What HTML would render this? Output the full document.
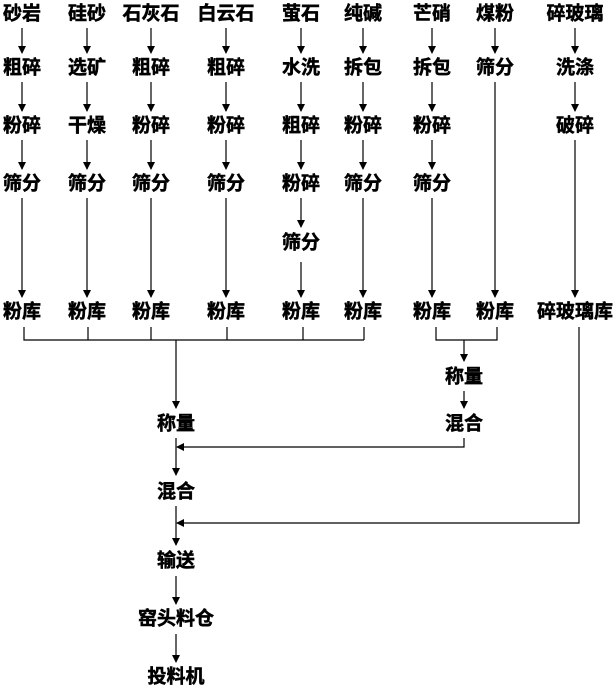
<!DOCTYPE html>
<html><head><meta charset="utf-8"><style>
html,body{margin:0;padding:0;background:#fff;}
svg text{font-family:"Liberation Sans","Noto Sans CJK SC",sans-serif;font-weight:bold;font-size:19px;fill:#000;stroke:#000;stroke-width:0.5;text-anchor:middle;dominant-baseline:central;}
</style></head><body>
<svg width="616" height="693" viewBox="0 0 616 693" xmlns="http://www.w3.org/2000/svg">
<defs><marker id="a" markerWidth="8" markerHeight="8" refX="7" refY="4" orient="auto" markerUnits="userSpaceOnUse"><path d="M0,0 L8,4 L0,8 Z" fill="#000"/></marker></defs>
<g stroke="#000" stroke-width="1.2" fill="none" marker-end="url(#a)">
<path d="M22,28V53"/><path d="M22,82V111"/><path d="M22,140V169"/><path d="M22,198V297"/>
<path d="M87,28V53"/><path d="M87,82V111"/><path d="M87,140V169"/><path d="M87,198V297"/>
<path d="M151,28V53"/><path d="M151,82V111"/><path d="M151,140V169"/><path d="M151,198V297"/>
<path d="M226,28V53"/><path d="M226,82V111"/><path d="M226,140V169"/><path d="M226,198V297"/>
<path d="M301,28V53"/><path d="M301,82V111"/><path d="M301,140V169"/><path d="M301,198V227"/><path d="M301,262V297"/>
<path d="M363,28V53"/><path d="M363,82V111"/><path d="M363,140V169"/><path d="M363,198V297"/>
<path d="M432,28V53"/><path d="M432,82V111"/><path d="M432,140V169"/><path d="M432,198V297"/>
<path d="M495,28V53"/><path d="M495,82V297"/>
<path d="M575,28V53"/><path d="M575,82V111"/><path d="M575,140V297"/>
<path d="M176,340V408"/>
<path d="M464,340V361"/>
<path d="M464,391V408"/>
<path d="M464,438V447H177"/>
<path d="M176,438V475"/>
<path d="M579,327V523H177"/>
<path d="M176,506V545"/>
<path d="M176,576V604"/>
<path d="M176,634V662"/>
</g>
<g stroke="#000" stroke-width="1.2" fill="none">
<path d="M24,327V340H364M88,327V340M151,327V340M227,327V340M303,327V340M364,327V340"/>
<path d="M436,327V340H497V327"/>
</g>
<g>
<text x="22" y="14">砂岩</text><text x="87" y="14">硅砂</text><text x="151" y="14">石灰石</text><text x="226" y="14">白云石</text><text x="301" y="14">萤石</text><text x="363" y="14">纯碱</text><text x="432" y="14">芒硝</text><text x="495" y="14">煤粉</text><text x="575" y="14">碎玻璃</text>
<text x="22" y="68">粗碎</text><text x="87" y="68">选矿</text><text x="151" y="68">粗碎</text><text x="226" y="68">粗碎</text><text x="301" y="68">水洗</text><text x="363" y="68">拆包</text><text x="432" y="68">拆包</text><text x="495" y="68">筛分</text><text x="575" y="68">洗涤</text>
<text x="22" y="126">粉碎</text><text x="87" y="126">干燥</text><text x="151" y="126">粉碎</text><text x="226" y="126">粉碎</text><text x="301" y="126">粗碎</text><text x="363" y="126">粉碎</text><text x="432" y="126">粉碎</text><text x="575" y="126">破碎</text>
<text x="22" y="184">筛分</text><text x="87" y="184">筛分</text><text x="151" y="184">筛分</text><text x="226" y="184">筛分</text><text x="301" y="184">粉碎</text><text x="363" y="184">筛分</text><text x="432" y="184">筛分</text>
<text x="301" y="243">筛分</text>
<text x="22" y="312">粉库</text><text x="87" y="312">粉库</text><text x="151" y="312">粉库</text><text x="226" y="312">粉库</text><text x="301" y="312">粉库</text><text x="363" y="312">粉库</text><text x="432" y="312">粉库</text><text x="495" y="312">粉库</text><text x="575" y="312">碎玻璃库</text>
<text x="464" y="377">称量</text><text x="464" y="424">混合</text>
<text x="176" y="424">称量</text><text x="176" y="492">混合</text><text x="176" y="561">输送</text><text x="176" y="619">窑头料仓</text><text x="176" y="677">投料机</text>
</g>
</svg>
</body></html>
